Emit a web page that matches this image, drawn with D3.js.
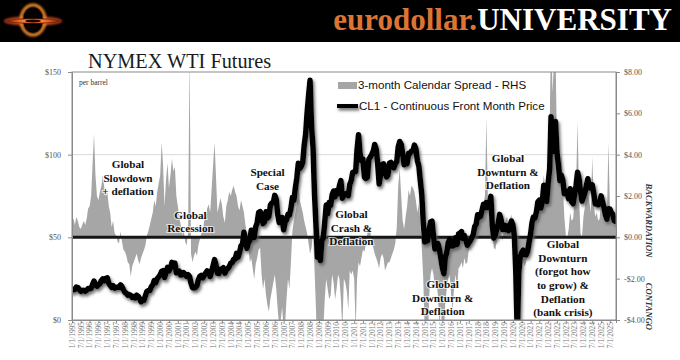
<!DOCTYPE html>
<html><head><meta charset="utf-8">
<script src="https://cdn.jsdelivr.net/npm/d3@7"></script>
<style>body{margin:0;background:#fff}svg{display:block}</style>
</head><body>
<svg id="c" width="680" height="360"></svg>
<script>
// ---------- DATA (monthly, Jan 1995 .. Nov 2025) ----------
const firstMonth = "1995-01-01";
const priceCL1 = [
 18.0,18.6,18.5,19.9,19.7,18.4,17.3,17.9,18.0,17.4,18.0,19.0,
 18.9,19.1,21.4,23.6,21.2,20.4,21.3,21.9,23.9,24.9,23.7,25.2,
 25.5,22.2,20.9,19.7,20.8,19.3,19.6,19.9,19.8,21.3,20.2,18.3,
 16.7,16.1,15.0,15.4,14.9,13.7,14.2,13.4,15.0,14.4,12.9,11.0,
 12.5,12.0,14.7,17.3,17.8,17.9,20.1,21.3,23.9,22.6,25.0,26.1,
 27.3,29.4,29.9,25.7,28.8,31.8,29.7,31.3,34.9,33.1,34.4,28.5,
 29.6,29.6,27.2,27.4,28.6,27.6,26.4,27.4,26.2,22.2,19.6,19.3,
 19.7,20.7,24.4,26.3,27.0,25.5,26.9,28.4,29.7,28.9,26.3,29.4,
 32.9,36.5,33.5,28.3,28.1,30.7,30.8,31.6,28.3,30.3,31.1,32.2,
 34.3,34.7,36.7,36.7,40.3,38.0,40.8,44.9,45.9,53.1,48.5,43.3,
 46.8,48.0,54.3,53.0,49.8,56.3,58.7,65.0,65.6,62.4,58.3,59.4,
 65.5,61.6,62.7,69.4,70.8,70.9,75.4,73.0,63.8,58.9,59.1,62.0,
 54.5,59.3,60.4,63.9,63.5,67.5,74.1,72.4,79.9,85.8,94.8,91.7,
 93.0,95.4,105.5,112.6,125.4,136.0,145.0,116.7,104.1,76.6,57.3,38.0,
 41.7,36.0,47.9,49.6,59.0,69.6,64.2,71.1,69.4,75.7,78.0,74.5,
 78.3,76.4,81.2,84.3,73.7,75.3,76.3,76.6,75.2,81.9,84.3,89.2,
 89.6,89.7,102.9,112.0,100.9,96.3,97.3,86.3,85.6,86.4,97.2,98.6,
 100.3,102.2,106.2,103.3,94.7,82.3,87.9,94.1,94.5,89.5,86.5,87.9,
 94.8,95.3,92.9,92.0,94.5,95.8,104.6,108.0,106.3,100.5,93.9,97.6,
 94.6,100.8,100.8,102.1,102.2,105.8,103.6,96.5,93.2,84.4,75.8,59.3,
 47.2,50.6,47.8,54.5,59.3,59.8,50.9,42.9,45.5,46.2,42.7,37.3,
 31.7,28.0,37.6,40.8,46.7,48.8,44.7,44.7,45.2,49.8,45.7,52.0,
 52.5,53.5,49.3,51.1,48.5,45.2,46.6,48.0,49.8,51.6,56.6,57.9,
 63.7,62.2,62.7,66.3,70.0,67.9,71.0,68.1,70.2,74.8,57.0,49.5,
 51.4,55.0,58.2,63.9,60.8,54.7,57.4,54.8,57.0,54.0,57.0,59.9,
 57.5,50.5,29.2,-10.0,28.6,38.3,40.7,42.3,39.6,39.4,41.5,47.0,
 52.0,59.0,62.3,61.7,65.2,71.4,72.5,67.7,71.6,81.5,79.2,71.7,
 83.2,91.6,123.0,101.8,109.6,120.0,101.6,93.7,84.3,87.6,84.4,76.4,
 78.1,76.8,73.3,79.4,71.6,70.3,76.0,81.4,89.4,85.6,77.7,71.9,
 74.2,77.2,81.3,85.4,80.0,79.8,81.8,76.7,70.2,71.6,69.7,70.1,
 75.1,71.2,68.2,63.5,61.0,67.3,67.2,64.9,63.9,60.0,59.5
];
const spread3m = [
 0.8,0.9,0.6,1.0,0.8,0.5,0.4,0.6,0.8,0.6,0.9,1.4,
 1.5,2.0,3.5,5.0,3.0,2.0,1.8,2.2,2.5,3.0,2.4,2.0,
 2.2,1.5,1.2,0.5,0.8,0.2,0.1,-0.2,-0.3,0.3,-0.2,-0.6,
 -0.7,-0.9,-1.2,-1.3,-1.9,-1.4,-1.2,-1.0,-0.8,-1.1,-1.3,-1.0,
 -0.8,-0.6,-0.4,0.1,0.3,0.6,0.9,1.2,1.8,1.5,2.2,2.6,
 3.0,4.6,3.5,1.5,2.8,3.6,2.4,3.0,3.8,3.2,3.4,2.0,
 1.5,1.0,0.6,0.1,0.4,-0.2,-0.4,0.2,9.0,-0.8,-1.2,-0.9,
 -0.7,-0.9,-0.4,-0.1,0.2,0.3,0.8,1.0,1.4,1.6,1.2,2.3,
 3.5,4.6,3.0,1.2,1.5,1.9,1.6,1.0,0.7,1.5,1.8,2.2,
 2.0,2.3,2.5,2.2,2.0,1.5,1.3,1.8,1.5,1.2,0.6,0.2,
 -0.5,-1.2,-1.0,-1.5,-2.0,-1.3,-1.0,-0.6,-0.5,-1.8,-2.5,-2.0,
 -2.8,-3.3,-3.6,-3.0,-2.6,-2.2,-1.8,-2.5,-3.5,-4.3,-4.0,-3.4,
 -4.5,-4.2,-3.0,-2.0,-2.5,-1.2,0.3,0.8,1.2,1.6,2.7,1.8,
 1.5,1.2,0.8,0.5,0.2,-0.3,-0.8,-0.5,0.3,-1.5,-3.5,-6.0,
 -7.0,-6.0,-5.0,-4.5,-3.0,-2.0,-2.5,-3.0,-2.8,-1.8,-2.2,-3.0,
 -2.5,-1.8,-2.0,-3.0,-4.5,-2.0,-2.2,-2.6,-3.5,-1.6,-1.8,-1.6,
 -2.0,-4.5,-2.0,-1.2,-1.4,-1.0,-0.6,-0.7,-0.3,0.2,0.4,0.3,
 -0.3,-0.5,-0.8,-1.0,-1.2,-1.5,-1.0,-0.8,-1.0,-1.6,-1.4,-1.2,
 -1.2,-1.0,-0.8,-0.6,-0.3,0.5,2.5,3.3,2.0,0.8,0.4,1.0,
 1.5,2.3,2.0,2.5,2.4,2.2,1.8,1.2,1.6,0.8,-0.5,-2.0,
 -4.5,-5.0,-5.5,-3.0,-1.8,-1.5,-1.8,-2.5,-2.2,-2.8,-4.2,-3.5,
 -4.5,-4.8,-3.2,-2.5,-2.0,-1.8,-2.8,-3.5,-2.4,-1.8,-2.5,-1.5,
 -1.4,-1.2,-1.5,-1.0,-1.3,-1.2,-0.6,-0.5,-0.1,0.2,0.4,0.6,
 0.8,0.9,1.0,1.3,1.6,2.0,5.8,1.8,1.5,1.2,0.2,-0.5,
 -0.6,-0.2,0.2,0.5,0.3,-0.2,0.6,0.8,1.0,0.7,0.9,1.1,
 0.3,-0.2,-2.5,-12.0,-3.0,-1.0,-0.8,-1.2,-1.4,-1.2,-0.9,-0.3,
 0.2,0.5,0.7,0.8,1.0,1.5,1.8,1.6,2.2,3.0,2.4,1.8,
 3.5,5.5,10.0,7.0,8.5,9.0,4.5,3.0,3.5,4.0,2.5,1.0,
 0.1,0.0,0.4,1.2,0.8,0.9,1.8,2.5,5.6,2.0,0.2,0.0,
 1.0,1.5,2.0,2.2,1.8,1.2,3.9,1.6,1.0,1.2,0.8,0.9,
 1.8,1.5,1.0,1.2,0.9,4.6,1.5,1.0,0.7,0.6,0.6
];
const tickLabels = [];
for (let yr = 1995; yr <= 2025; yr++) { tickLabels.push("1/1/" + yr, "7/1/" + yr); }
const priceTicks = [0, 50, 100, 150];
const spreadTicks = [-4, -2, 0, 2, 4, 6, 8];
const legendLabels = ["3-month Calendar Spread - RHS", "CL1 - Continuous Front Month Price"];
const notes = [
 {date:"1998-03-05", price:92.0, lines:["Global","Slowdown","+ deflation"]},
 {date:"2001-09-20", price:61.3, lines:["Global","Recession"]},
 {date:"2006-02-01", price:87.1, lines:["Special","Case"]},
 {date:"2010-11-05", price:61.7, lines:["Global","Crash &","Deflation"]},
 {date:"2016-01-08", price:19.4, lines:["Global","Downturn &","Deflation"]},
 {date:"2019-09-20", price:95.6, lines:["Global","Downturn &","Deflation"]},
 {date:"2022-11-01", price:43.6, lines:["Global","Downturn","(forgot how","to grow) &","Deflation","(bank crisis)"]}
];

// ---------- LAYOUT ----------
const svg = d3.select("#c");
const L = 72, R = 616, T = 72, B = 320;
const parseISO = d3.timeParse("%Y-%m-%d");
const parseTick = d3.timeParse("%m/%d/%Y");
const dates = priceCL1.map((_, i) => d3.timeMonth.offset(parseISO(firstMonth), i));
const x = d3.scaleTime().domain([parseISO(firstMonth), parseISO("2025-11-05")]).range([L, R]);
const yP = d3.scaleLinear().domain([0, 150]).range([B, T]);
const yS = d3.scaleLinear().domain([-4, 8]).range([B, T]);

const defs = svg.append("defs");
defs.append("clipPath").attr("id", "plot").append("rect").attr("x", L).attr("y", T).attr("width", R - L).attr("height", B - T);
const sh = defs.append("filter").attr("id", "shadow").attr("filterUnits", "userSpaceOnUse")
  .attr("x", 0).attr("y", 0).attr("width", 680).attr("height", 360);
sh.append("feDropShadow").attr("dx", 1.5).attr("dy", 2.5).attr("stdDeviation", 1.6)
  .attr("flood-color", "#555").attr("flood-opacity", 0.85);
const soft = defs.append("filter").attr("id", "soft").attr("filterUnits", "userSpaceOnUse")
  .attr("x", 0).attr("y", 0).attr("width", 680).attr("height", 360);
soft.append("feGaussianBlur").attr("stdDeviation", 0.6);
const glow = defs.append("filter").attr("id", "glow").attr("filterUnits", "userSpaceOnUse")
  .attr("x", 0).attr("y", 0).attr("width", 80).attr("height", 45);
glow.append("feGaussianBlur").attr("stdDeviation", 1.3);
const rg = defs.append("radialGradient").attr("id", "disk");
rg.append("stop").attr("offset", "0%").attr("stop-color", "#ffcf7a");
rg.append("stop").attr("offset", "60%").attr("stop-color", "#e0601f");
rg.append("stop").attr("offset", "100%").attr("stop-color", "#5a1505");

// ---------- HEADER ----------
svg.append("rect").attr("x", 0).attr("y", 0).attr("width", 680).attr("height", 42).attr("fill", "#000");
const logo = svg.append("g");
logo.append("ellipse").attr("cx", 33).attr("cy", 21).attr("rx", 29).attr("ry", 5).attr("fill", "#b8401a").attr("filter", "url(#glow)");
logo.append("ellipse").attr("cx", 33).attr("cy", 20).attr("rx", 12).attr("ry", 15).attr("fill", "none")
  .attr("stroke", "#f08a2a").attr("stroke-width", 3).attr("filter", "url(#glow)");
logo.append("ellipse").attr("cx", 33).attr("cy", 20).attr("rx", 10).attr("ry", 12.5).attr("fill", "#050100");
logo.append("ellipse").attr("cx", 33).attr("cy", 21).attr("rx", 27).attr("ry", 2.6).attr("fill", "url(#disk)");
logo.append("ellipse").attr("cx", 33).attr("cy", 21).attr("rx", 8).attr("ry", 1.5).attr("fill", "#1a0500");

const brand = svg.append("text").attr("x", 672).attr("y", 30).attr("text-anchor", "end")
  .attr("font-family", "'Liberation Serif','DejaVu Serif',serif").attr("font-weight", "bold").attr("font-size", 31);
brand.append("tspan").attr("fill", "#dd7434").text("eurodollar.");
brand.append("tspan").attr("fill", "#ffffff").text("UNIVERSITY");
const bl = brand.node().getComputedTextLength();
brand.attr("font-size", 31 * 339 / bl);

// ---------- TITLE ----------
svg.append("text").attr("x", 88).attr("y", 68).attr("font-family", "'Liberation Serif',serif")
  .attr("font-size", 20.3).attr("fill", "#1a1a1a").text("NYMEX WTI Futures");

// ---------- GRID ----------
svg.append("g").selectAll("line").data(priceTicks.filter(v => v === 100)).join("line")
  .attr("x1", L).attr("x2", R).attr("y1", d => yP(d)).attr("y2", d => yP(d))
  .attr("stroke", "#d9d9d9").attr("stroke-width", 1);

// ---------- SPREAD AREA ----------
const series = dates.map((d, i) => ({d, p: priceCL1[i], s: spread3m[i]}));
const plot = svg.append("g").attr("clip-path", "url(#plot)");
plot.append("path").datum(series)
  .attr("d", d3.area().x(r => x(r.d)).y0(yS(0)).y1(r => yS(r.s)))
  .attr("fill", "#a6a6a6").attr("filter", "url(#soft)");
plot.append("line").attr("x1", L).attr("x2", R).attr("y1", yS(0)).attr("y2", yS(0))
  .attr("stroke", "#151515").attr("stroke-width", 3);

// ---------- PRICE LINE ----------
plot.append("path").datum(series)
  .attr("d", d3.line().x(r => x(r.d)).y(r => yP(r.p)))
  .attr("fill", "none").attr("stroke", "#000").attr("stroke-width", 5.5)
  .attr("stroke-linejoin", "round").attr("stroke-linecap", "round").attr("filter", "url(#shadow)");

// ---------- FRAME & AXES ----------
svg.append("rect").attr("x", L).attr("y", T).attr("width", R - L).attr("height", B - T)
  .attr("fill", "none").attr("stroke", "#8a8a8a").attr("stroke-width", 1);

const axL = svg.append("g").attr("transform", `translate(${L},0)`)
  .call(d3.axisLeft(yP).tickValues(priceTicks).tickSize(4).tickPadding(7).tickFormat(d => "$" + d));
const axR = svg.append("g").attr("transform", `translate(${R},0)`)
  .call(d3.axisRight(yS).tickValues(spreadTicks).tickSize(4).tickPadding(4)
    .tickFormat(d => (d < 0 ? "-" : "") + "$" + Math.abs(d).toFixed(2)));
const tickDates = tickLabels.map(parseTick);
const axB = svg.append("g").attr("transform", `translate(0,${B})`)
  .call(d3.axisBottom(x).tickValues(tickDates).tickSize(3).tickPadding(2)
    .tickFormat((d, i) => tickLabels[i]));
[axL, axR, axB].forEach(a => {
  a.select(".domain").attr("stroke", "#8a8a8a");
  a.selectAll(".tick line").attr("stroke", "#8a8a8a");
  a.selectAll("text").attr("font-family", "'Liberation Serif',serif").attr("fill", "#555");
});
axL.selectAll("text").attr("font-size", 8);
axR.selectAll("text").attr("font-size", 8);
axB.selectAll("text").attr("font-size", 7.4).attr("fill", "#777")
  .attr("text-anchor", "end").attr("dy", "0.32em")
  .attr("transform", "translate(0,2) rotate(-90)").attr("x", 0).attr("y", 0);

// side labels
const side = svg.append("g").attr("font-family", "'Liberation Serif',serif").attr("font-style", "italic")
  .attr("font-weight", "bold").attr("font-size", 8.6).attr("fill", "#333");
side.append("text").attr("transform", `translate(646,${yS(2.6)}) rotate(90)`).text("BACKWARDATION");
side.append("text").attr("transform", `translate(646,${yS(-2.2)}) rotate(90)`).text("CONTANGO");

svg.append("text").attr("x", 79).attr("y", 85).attr("font-family", "'Liberation Serif',serif")
  .attr("font-size", 7.5).attr("fill", "#333").text("per barrel");

// ---------- ANNOTATIONS ----------
const ann = svg.append("g").attr("font-family", "'Liberation Serif',serif").attr("font-weight", "bold")
  .attr("font-size", 11.2).attr("text-anchor", "middle").attr("fill", "#111");
notes.forEach(n => {
  const cx = x(parseISO(n.date)), cy = yP(n.price);
  n.lines.forEach((t, i) => {
    ann.append("text").attr("x", cx).attr("y", cy + i * 13.7)
      .attr("stroke", "#fff").attr("stroke-width", 2.2).attr("stroke-opacity", 0.7)
      .attr("paint-order", "stroke").text(t);
  });
});

// ---------- LEGEND ----------
const lg = svg.append("g").attr("font-family", "'Liberation Sans',Arial,sans-serif").attr("font-size", 11.6).attr("fill", "#111");
lg.append("rect").attr("x", 338).attr("y", 82).attr("width", 19).attr("height", 7).attr("fill", "#a6a6a6");
lg.append("text").attr("x", 358).attr("y", 89).text(legendLabels[0]);
lg.append("line").attr("x1", 337).attr("x2", 358).attr("y1", 106).attr("y2", 106)
  .attr("stroke", "#000").attr("stroke-width", 4).attr("filter", "url(#shadow)");
lg.append("text").attr("x", 359).attr("y", 110).text(legendLabels[1]);
</script>
</body></html>
